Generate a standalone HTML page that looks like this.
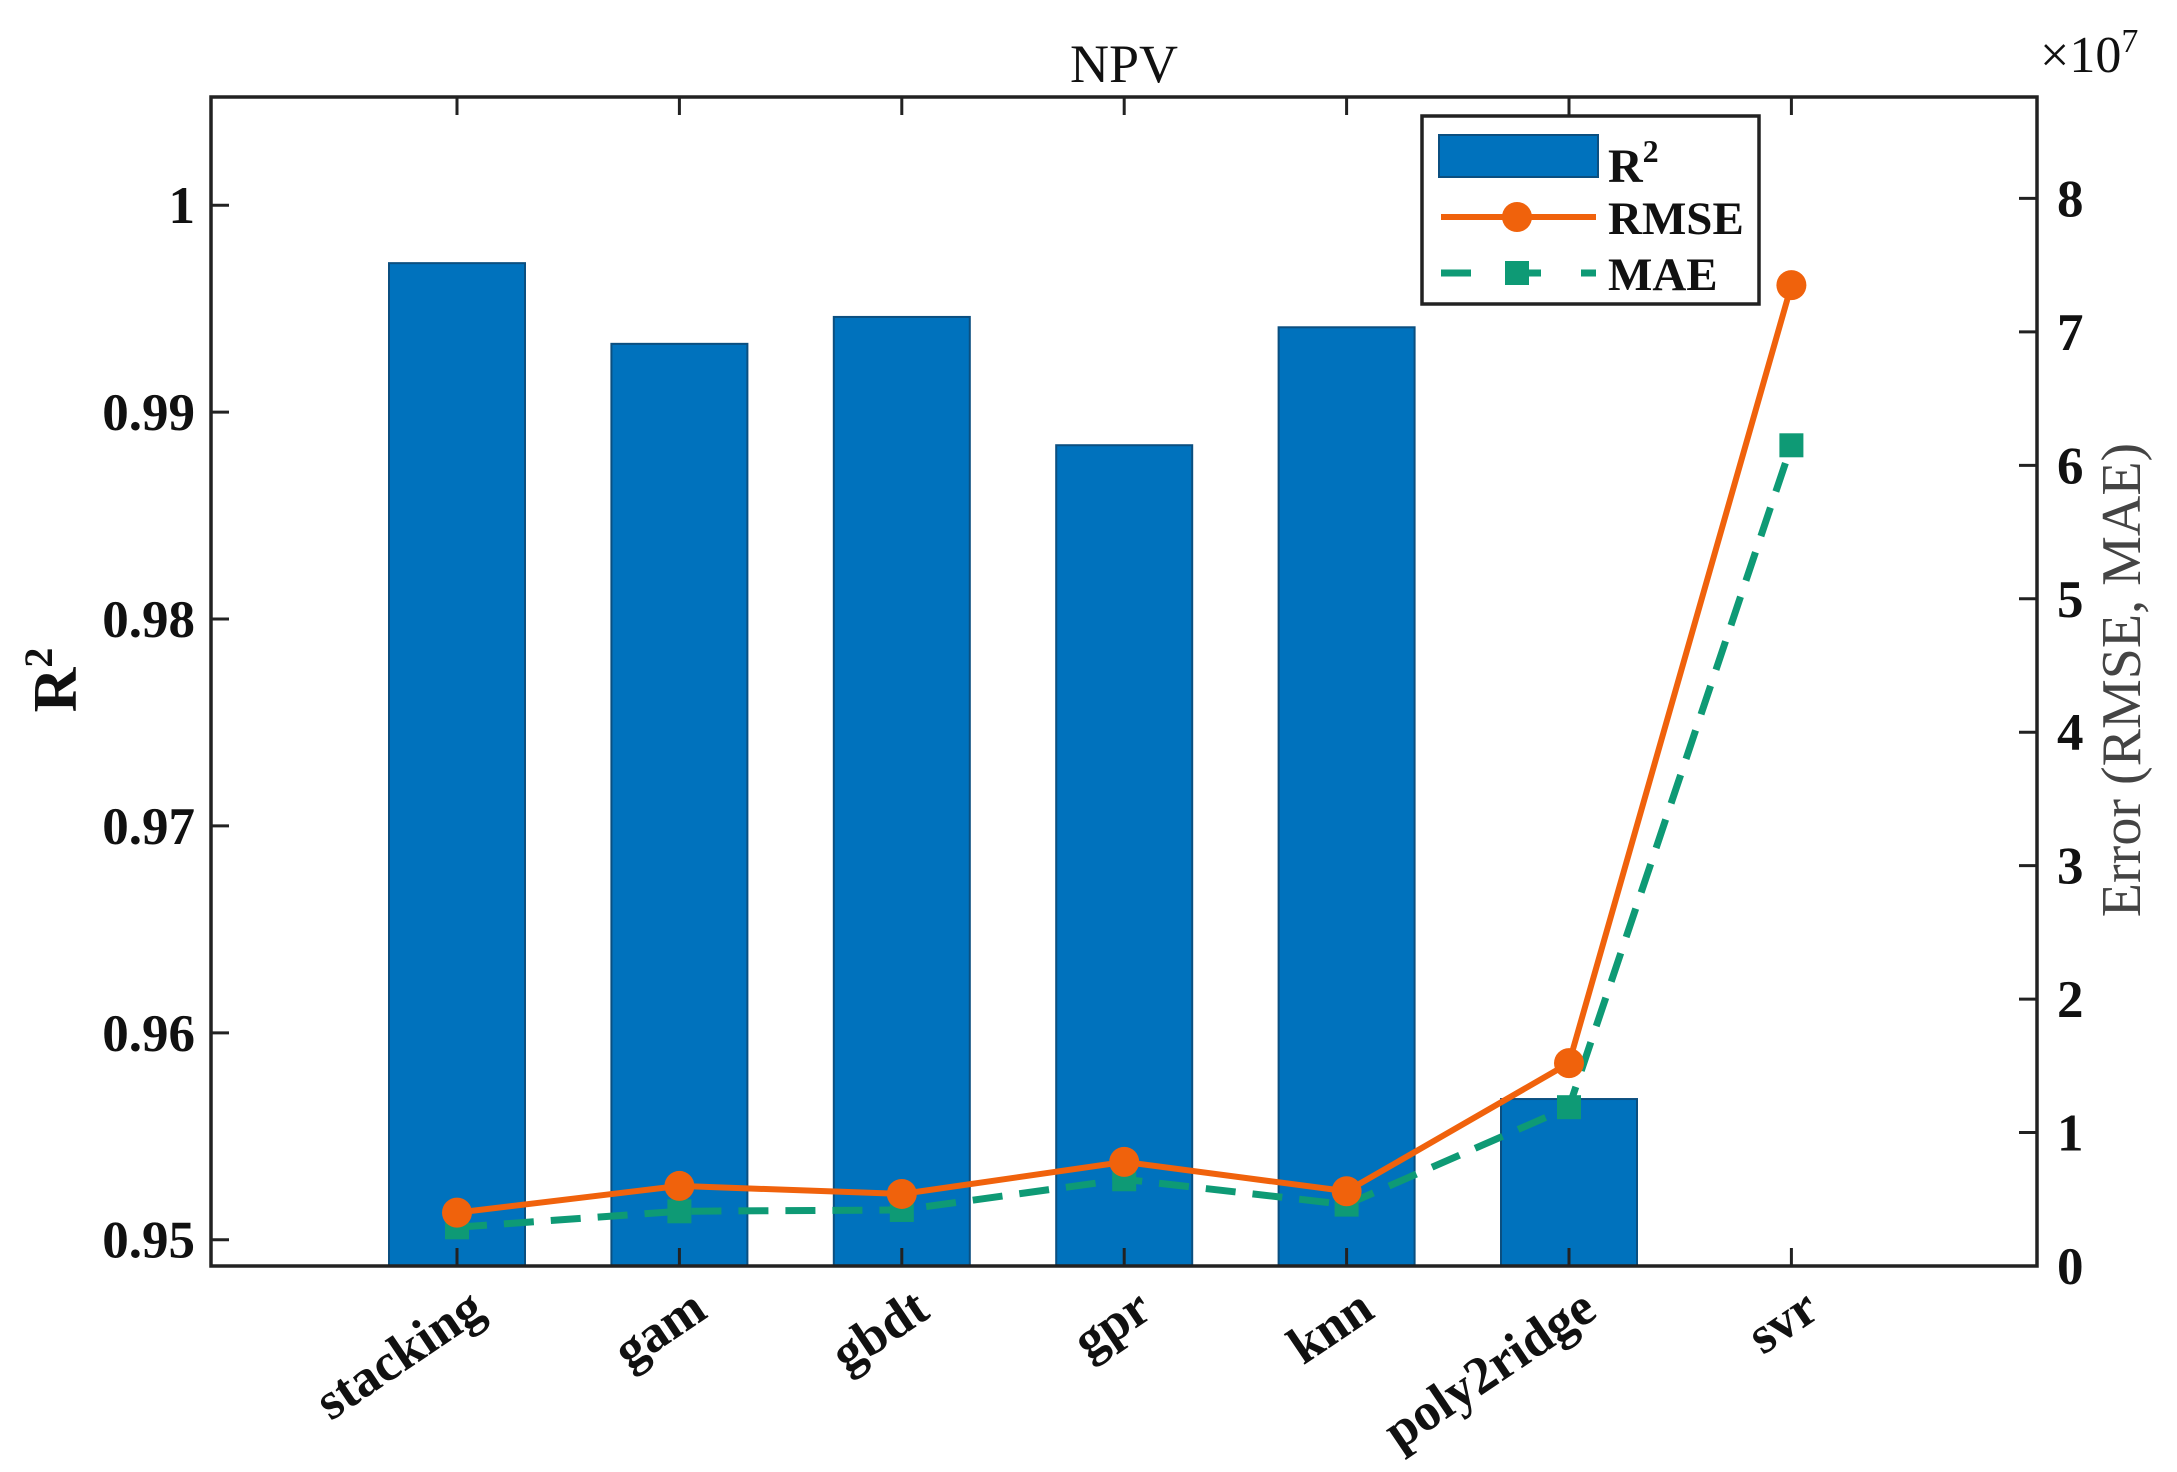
<!DOCTYPE html>
<html><head><meta charset="utf-8"><style>
html,body{margin:0;padding:0;background:#fff;}
svg{display:block;font-family:"Liberation Serif",serif;}
</style></head><body>
<svg id="chart" width="2177" height="1472" viewBox="0 0 2177 1472" xmlns="http://www.w3.org/2000/svg">
<g id="plot"></g>
</svg>
<script>
const categories = ["stacking","gam","gbdt","gpr","knn","poly2ridge","svr"];
const r2Values = [0.9972,0.9933,0.9946,0.9884,0.9941,0.9568,null];
const rmseValues = [0.40,0.60,0.54,0.78,0.56,1.52,7.35];
const maeValues = [0.29,0.41,0.42,0.65,0.46,1.19,6.15];
const leftTicks = [0.95,0.96,0.97,0.98,0.99,1];
const leftTickLabels = ["0.95","0.96","0.97","0.98","0.99","1"];
const rightTicks = [0,1,2,3,4,5,6,7,8];

const L=211,R=2037,T=97,B=1266;
const yMinL=0.94873,yMaxL=1.00523,yMaxR=8.76;
const xs=i=>457+i*222.4;
const yL=v=>B-(v-yMinL)/(yMaxL-yMinL)*(B-T);
const yR=v=>B-v/yMaxR*(B-T);
const NS="http://www.w3.org/2000/svg";
const g=document.getElementById('plot');
function mk(tag,attrs,parent){const e=document.createElementNS(NS,tag);for(const k in attrs)e.setAttribute(k,attrs[k]);(parent||g).appendChild(e);return e;}

categories.forEach((c,i)=>{
  if(r2Values[i]==null)return;
  const y=yL(r2Values[i]);
  const b=mk('rect',{x:xs(i)-68,y:y,width:136,height:B-y,fill:'#0072BD',stroke:'#0b4f80','stroke-width':2});
  
  
});
const maePts=maeValues.map((v,i)=>xs(i)+','+yR(v)).join(' ');
const ml=mk('polyline',{points:maePts,fill:'none',stroke:'#0E9A75','stroke-width':7,'stroke-dasharray':'30,17'});


maeValues.forEach((v,i)=>{
  const m=mk('rect',{x:xs(i)-12,y:yR(v)-12,width:24,height:24,fill:'#0E9A75'});
  
  
});
const rPts=rmseValues.map((v,i)=>xs(i)+','+yR(v)).join(' ');
const rl=mk('polyline',{points:rPts,fill:'none',stroke:'#F0620C','stroke-width':6});


rmseValues.forEach((v,i)=>{
  const m=mk('circle',{cx:xs(i),cy:yR(v),r:15,fill:'#F0620C'});
  
  
});
const box=mk('rect',{x:L,y:T,width:R-L,height:B-T,fill:'none',stroke:'#222','stroke-width':3.5});


leftTicks.forEach((v,i)=>{
  const y=yL(v);
  mk('line',{x1:L,y1:y,x2:L+18,y2:y,stroke:'#222','stroke-width':3});
  const t=mk('text',{x:L-16,y:y+18,'text-anchor':'end','font-size':53,'font-weight':'bold',fill:'#111'});
  t.textContent=leftTickLabels[i];
  
  
});
rightTicks.forEach(v=>{
  const y=yR(v);
  mk('line',{x1:R-18,y1:y,x2:R,y2:y,stroke:'#222','stroke-width':3});
  const t=mk('text',{x:R+20,y:y+18,'font-size':53,'font-weight':'bold',fill:'#111'});
  t.textContent=String(v);
  
  
});
categories.forEach((c,i)=>{
  const x=xs(i);
  mk('line',{x1:x,y1:B,x2:x,y2:B-18,stroke:'#222','stroke-width':3});
  mk('line',{x1:x,y1:T,x2:x,y2:T+18,stroke:'#222','stroke-width':3});
  const t=mk('text',{x:x+30,y:1316,'text-anchor':'end','font-size':53,'font-weight':'bold',fill:'#111',transform:'rotate(-34 '+(x+30)+' 1316)'});
  t.textContent=c;
  
  
});
</script>
<svg style="position:absolute;left:0;top:0" width="2177" height="1472" viewBox="0 0 2177 1472" xmlns="http://www.w3.org/2000/svg">
<text x="1124" y="82" text-anchor="middle" font-size="54" fill="#111" font-family="Liberation Serif, serif">NPV</text>
<text x="2040" y="72" font-size="52" fill="#111" font-family="Liberation Serif, serif">×10<tspan font-size="34" dy="-20">7</tspan></text>
<text transform="translate(76 680) rotate(-90)" text-anchor="middle" font-size="62" font-weight="bold" fill="#111" font-family="Liberation Serif, serif">R<tspan font-size="40" dy="-24">2</tspan></text>
<text transform="translate(2140 680) rotate(-90)" text-anchor="middle" font-size="56" fill="#444" font-family="Liberation Serif, serif">Error (RMSE, MAE)</text>
<g font-family="Liberation Serif, serif">
<rect x="1422" y="116" width="337" height="188" fill="#fff" stroke="#222" stroke-width="3.5"/>
<rect x="1439" y="135" width="159" height="42" fill="#0072BD" stroke="#0b4f80" stroke-width="2"/>
<text x="1608" y="182" font-size="48" font-weight="bold" fill="#111">R<tspan font-size="32" dy="-20">2</tspan></text>
<line x1="1441" y1="217" x2="1596" y2="217" stroke="#F0620C" stroke-width="6"/>
<circle cx="1517" cy="217" r="15" fill="#F0620C"/>
<text x="1608" y="234" font-size="47" font-weight="bold" fill="#111">RMSE</text>
<line x1="1441" y1="273" x2="1596" y2="273" stroke="#0E9A75" stroke-width="7" stroke-dasharray="30,40"/>
<rect x="1505" y="261" width="24" height="24" fill="#0E9A75"/>
<text x="1608" y="290" font-size="47" font-weight="bold" fill="#111">MAE</text>
</g>
</svg>
</body></html>
